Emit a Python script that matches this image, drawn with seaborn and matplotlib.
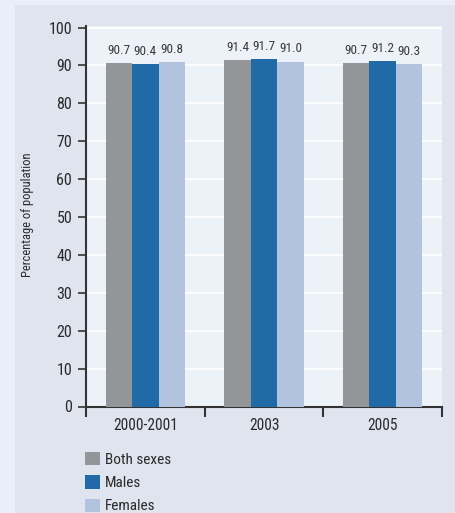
import matplotlib
matplotlib.use("Agg")
import matplotlib.pyplot as plt
import matplotlib.patches as mpatches
from matplotlib import font_manager
import seaborn as sns
import pandas as pd

years = ["2000-2001", "2003", "2005"]
series_names = ["Both sexes", "Males", "Females"]
both_sexes = [90.7, 91.4, 90.7]
males = [90.4, 91.7, 91.2]
females = [90.8, 91.0, 90.3]
y_ticks = [0, 10, 20, 30, 40, 50, 60, 70, 80, 90, 100]
y_label = "Percentage of population"

colors = ["#949599", "#216aa8", "#b2c3e0"]

sns.set_theme(style="white")
available = {f.name for f in font_manager.fontManager.ttflist}
fams = [f for f in ["Roboto Condensed", "PT Sans Narrow", "Liberation Sans Narrow"] if f in available]
plt.rcParams["font.family"] = fams[:1] + ["DejaVu Sans"]

rows = []
for name, vals in zip(series_names, [both_sexes, males, females]):
    for y, v in zip(years, vals):
        rows.append({"year": y, "sex": name, "value": v})
df = pd.DataFrame(rows)

W, H = 455, 513
fig = plt.figure(figsize=(W / 100, H / 100), dpi=100)
fig.patch.set_facecolor("#e9eef9")
fig.patches.append(mpatches.Rectangle((15 / W, 0), 1, (H - 5) / H, transform=fig.transFigure,
                                      facecolor="#dfe4ef", edgecolor="none", zorder=-5))

left, right, top, bottom = 86, 442, 26, 406.5
ax = fig.add_axes([left / W, (H - bottom) / H, (right - left) / W, (bottom - top) / H])
ax.set_facecolor("#edf1f8")

sns.barplot(data=df, x="year", y="value", hue="sex", palette=colors, width=0.67,
            saturation=1, ax=ax, zorder=3, legend=True, linewidth=0, edgecolor="none")

for c in ax.containers:
    ax.bar_label(c, fmt="%.1f", padding=4.5, fontsize=9.5, color="#3a3a3a")

ax.set_ylim(0, 100.4)
ax.set_xlim(-0.5, 2.5)
ax.set_yticks(y_ticks)
ax.set_yticklabels([str(t) for t in y_ticks], fontsize=11.5, color="#2a2a2a")
ax.yaxis.grid(True, color="white", linewidth=1.3, zorder=1)
ax.set_axisbelow(True)

ax.set_xticks([0, 1, 2])
ax.set_xticklabels(years, fontsize=11.2, color="#2a2a2a")
ax.tick_params(axis="x", which="major", length=0, pad=8)
ax.set_xticks([-0.5, 0.5, 1.5, 2.5], minor=True)
ax.tick_params(axis="x", which="minor", length=7, width=1.5, color="#333333", direction="out", bottom=True)
ax.tick_params(axis="y", length=6, width=1.2, color="#333333", direction="out", left=True, pad=4)

ax.set_xlabel("")
ax.set_ylabel("")
fig.text(28 / W, 1 - 215 / H, y_label, rotation=90, ha="center", va="center",
         fontsize=9, color="#2a2a2a")

for s in ["top", "right"]:
    ax.spines[s].set_visible(False)
for s in ["left", "bottom"]:
    ax.spines[s].set_color("#333333")
    ax.spines[s].set_linewidth(1.5)

handles, labels = ax.get_legend_handles_labels()
ax.get_legend().remove()
fig.legend(handles, labels, loc="upper left", bbox_to_anchor=(79 / W, 1 - 446 / H),
           frameon=False, fontsize=11, handlelength=0.95, handleheight=0.95,
           handletextpad=0.35, labelspacing=0.55, borderaxespad=0, labelcolor="#2a2a2a")

fig.savefig("out.png", dpi=100, facecolor=fig.get_facecolor())
